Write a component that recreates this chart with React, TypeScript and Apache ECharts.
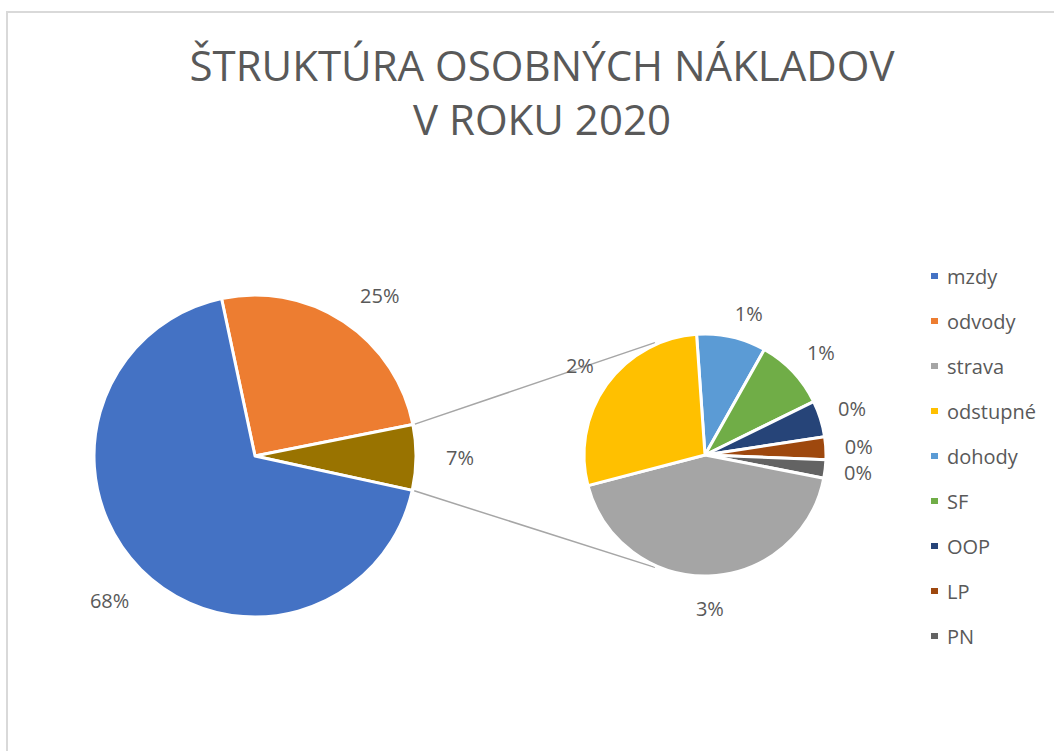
import React, { useEffect, useRef } from "react";
import * as echarts from "echarts";

// ---- data ----
const mainNames = ["mzdy", "odvody"];
const mainValues = [68.5, 25.3];
const otherName = "ostatné";
const subNames = ["dohody", "SF", "OOP", "LP", "PN", "strava", "odstupné"];
const subValues = [0.61, 0.63, 0.32, 0.2, 0.16, 2.82, 1.84];
const legendNames = ["mzdy", "odvody", "strava", "odstupné", "dohody", "SF", "OOP", "LP", "PN"];
const titleText = "ŠTRUKTÚRA OSOBNÝCH NÁKLADOV\nV ROKU 2020";

// ---- styles ----
const colors: Record<string, string> = {
  mzdy: "#4472C4",
  odvody: "#ED7D31",
  ostatné: "#997300",
  strava: "#A5A5A5",
  "odstupné": "#FFC000",
  dohody: "#5B9BD5",
  SF: "#70AD47",
  OOP: "#264478",
  LP: "#9E480E",
  PN: "#636363",
};
const labelNudge: Record<string, number[]> = {
  odvody: [12, 11],
  dohody: [10, 9],
  SF: [4, 3],
};
const FONT = "'Open Sans', sans-serif";
const TXT = "#595959";

export default function App() {
  const ref = useRef<HTMLDivElement>(null);
  useEffect(() => {
    if (!ref.current) return;
    const chart = echarts.init(ref.current, null, { renderer: "svg" });

    const otherValue = subValues.reduce((a, b) => a + b, 0);
    const total = mainValues.reduce((a, b) => a + b, 0) + otherValue;
    const pct = (v: number) => Math.round((v / total) * 100) + "%";

    // main pie: order clockwise odvody, other, mzdy
    const mainData = [
      { name: mainNames[1], value: mainValues[1] },
      { name: otherName, value: otherValue },
      { name: mainNames[0], value: mainValues[0] },
    ].map((d) => ({ ...d, itemStyle: { color: colors[d.name] } }));
    const subData = subNames.map((n, i) => ({
      name: n,
      value: subValues[i],
      itemStyle: { color: colors[n] },
    }));

    const mainC = [255, 456];
    const mainR = 161;
    const mainStart = 102;
    const subC = [705, 455];
    const subR = 121;
    const subStart = 94;

    // connector geometry
    const a1 = mainStart - (mainValues[1] / total) * 360;
    const a2 = a1 - (otherValue / total) * 360;
    const rad = (d: number) => (d * Math.PI) / 180;
    const p = (c: number[], r: number, a: number) => [c[0] + r * Math.cos(rad(a)), c[1] - r * Math.sin(rad(a))];
    const m1 = p(mainC, mainR + 2, a1);
    const m2 = p(mainC, mainR + 2, a2);
    const s1 = p(subC, subR + 2, 114);
    const s2 = p(subC, subR + 2, 246);

    const labelStyle = {
      show: true,
      position: "inside" as const,
      fontFamily: FONT,
      fontSize: 20,
      color: TXT,
      formatter: (pp: any) => pct(pp.value),
    };
    const labelData = (arr: { name: string; value: number }[]) =>
      arr.map((d) => ({
        name: d.name,
        value: d.value,
        label: labelNudge[d.name] ? { offset: labelNudge[d.name] } : undefined,
      }));

    chart.setOption({
      animation: false,
      backgroundColor: "#ffffff",
      title: {
        text: titleText,
        left: 537,
        top: 32,
        textAlign: "center",
        textStyle: {
          fontFamily: FONT,
          fontSize: 42,
          fontWeight: 400,
          color: TXT,
          lineHeight: 54,
        },
      },
      legend: {
        data: legendNames,
        orient: "vertical",
        left: 929,
        top: 266,
        padding: 0,
        itemWidth: 9,
        itemHeight: 8,
        itemGap: 25,
        icon: "rect",
        selectedMode: false,
        textStyle: { fontFamily: FONT, fontSize: 20, color: TXT, lineHeight: 20, padding: [0, 0, 0, 3] },
      },
      graphic: [
        {
          type: "rect",
          shape: { x: 7, y: 12, width: 1200, height: 900 },
          style: { fill: "none", stroke: "#D9D9D9", lineWidth: 2 },
          silent: true,
          z: -10,
        },
        {
          type: "line",
          shape: { x1: m1[0], y1: m1[1], x2: s1[0], y2: s1[1] },
          style: { stroke: "#A6A6A6", lineWidth: 1.5 },
          silent: true,
        },
        {
          type: "line",
          shape: { x1: m2[0], y1: m2[1], x2: s2[0], y2: s2[1] },
          style: { stroke: "#A6A6A6", lineWidth: 1.5 },
          silent: true,
        },
      ],
      series: [
        {
          type: "pie",
          name: "main",
          center: mainC,
          radius: mainR,
          startAngle: mainStart,
          clockwise: true,
          avoidLabelOverlap: false,
          label: { show: false },
          labelLine: { show: false },
          itemStyle: { borderColor: "#fff", borderWidth: 3 },
          emphasis: { disabled: true },
          data: mainData,
          silent: true,
        },
        {
          type: "pie",
          name: "sub",
          center: subC,
          radius: subR,
          startAngle: subStart,
          clockwise: true,
          avoidLabelOverlap: false,
          label: { show: false },
          labelLine: { show: false },
          itemStyle: { borderColor: "#fff", borderWidth: 3 },
          emphasis: { disabled: true },
          data: subData,
          silent: true,
        },
        {
          type: "pie",
          name: "mainLabels",
          center: mainC,
          radius: [190, 214],
          startAngle: mainStart,
          clockwise: true,
          avoidLabelOverlap: false,
          label: labelStyle,
          labelLine: { show: false },
          itemStyle: { color: "rgba(0,0,0,0)" },
          emphasis: { disabled: true },
          data: labelData(mainData),
          silent: true,
          legendHoverLink: false,
        },
        {
          type: "pie",
          name: "subLabels",
          center: subC,
          radius: [140, 162],
          startAngle: subStart,
          clockwise: true,
          avoidLabelOverlap: false,
          label: labelStyle,
          labelLine: { show: false },
          itemStyle: { color: "rgba(0,0,0,0)" },
          emphasis: { disabled: true },
          data: labelData(subData),
          silent: true,
          legendHoverLink: false,
        },
      ],
    });
    return () => chart.dispose();
  }, []);
  return (
    <div
      ref={ref}
      style={{ position: "absolute", left: 0, top: 0, width: 1054, height: 751 }}
    />
  );
}
